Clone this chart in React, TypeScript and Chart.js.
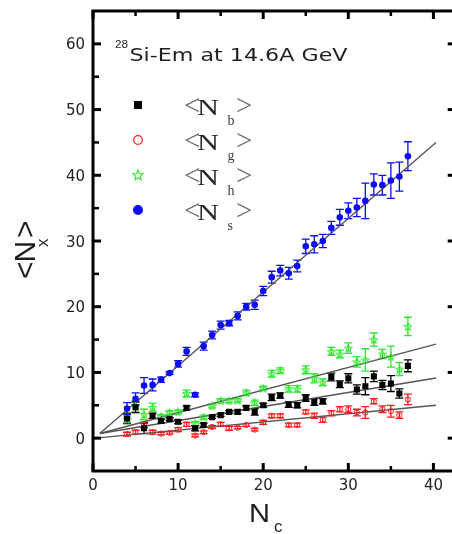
import React, { useEffect, useRef } from "react";
import { Chart, registerables } from "chart.js";

Chart.register(...registerables);

// ---------- data ----------
const nc = [4, 5, 6, 7, 8, 9, 10, 11, 12, 13, 14, 15, 16, 17, 18, 19, 20, 21, 22, 23, 24, 25, 26, 27, 28, 29, 30, 31, 32, 33, 34, 35, 36, 37];

const nbMean = [3.0, 4.7, 1.5, 3.4, 2.6, 2.9, 2.5, 4.6, 1.5, 2.0, 3.2, 3.5, 4.0, 4.0, 4.6, 4.0, 5.0, 6.2, 6.5, 5.1, 5.0, 6.1, 5.5, 5.6, 9.3, 8.2, 9.1, 7.4, 7.9, 9.4, 8.1, 8.3, 6.8, 11.0];
const nbErr = [0.8, 0.8, 0.8, 0.4, 0.3, 0.2, 0.3, 0.3, 0.4, 0.3, 0.2, 0.2, 0.2, 0.3, 0.3, 0.5, 0.3, 0.5, 0.4, 0.4, 0.4, 0.5, 0.5, 0.4, 0.6, 0.5, 0.7, 0.7, 1.3, 0.8, 0.7, 1.2, 0.7, 0.9];

const ngMean = [0.6, 0.9, 2.0, 0.9, 0.7, 0.8, 1.3, 2.1, 0.4, 0.9, 1.7, 2.1, 1.5, 1.6, 2.0, 1.3, 2.4, 3.4, 3.4, 2.0, 2.0, 4.0, 3.4, 2.8, 3.8, 4.4, 4.4, 3.9, 3.9, 5.6, 4.4, 4.1, 3.5, 5.9];
const ngErr = [0.3, 0.3, 0.4, 0.3, 0.2, 0.2, 0.3, 0.3, 0.2, 0.2, 0.2, 0.3, 0.3, 0.2, 0.2, 0.2, 0.3, 0.3, 0.3, 0.3, 0.3, 0.3, 0.4, 0.4, 0.4, 0.4, 0.5, 0.5, 0.9, 0.4, 0.5, 0.9, 0.5, 0.8];

const nhMean = [2.8, 4.8, 3.6, 4.7, 3.3, 3.9, 4.0, 6.8, 2.2, 3.2, 4.9, 5.7, 5.7, 5.8, 6.9, 5.4, 7.6, 9.8, 10.3, 7.5, 7.5, 10.4, 9.1, 8.5, 13.2, 12.8, 13.7, 11.6, 11.9, 15.0, 12.8, 12.4, 10.5, 17.0];
const nhErr = [0.4, 0.9, 0.8, 0.6, 0.3, 0.3, 0.3, 0.5, 0.3, 0.3, 0.3, 0.3, 0.3, 0.3, 0.4, 0.4, 0.3, 0.5, 0.4, 0.5, 0.5, 0.6, 0.7, 0.5, 0.6, 0.6, 0.8, 0.8, 1.7, 1.0, 0.7, 1.6, 1.0, 1.4];

const nsMean = [4.5, 6.0, 8.0, 8.1, 8.9, 9.9, 11.3, 13.2, 6.6, 14.0, 15.7, 17.2, 17.5, 18.6, 20.0, 20.3, 22.4, 24.5, 25.5, 25.1, 26.2, 29.2, 29.5, 30.0, 32.0, 33.6, 34.6, 35.1, 36.1, 38.6, 38.5, 39.2, 39.8, 42.9];
const nsErr = [0.9, 0.9, 1.2, 0.9, 0.4, 0.2, 0.5, 0.6, 0.3, 0.6, 0.6, 0.6, 0.4, 0.6, 0.5, 0.7, 0.7, 0.9, 0.8, 0.9, 0.9, 1.1, 1.3, 1.0, 1.0, 1.2, 1.2, 1.4, 2.7, 1.6, 1.5, 2.7, 2.2, 2.2];

// fit lines (end points)
const fitX = [0.8, 40.3];
const nsFit = [0.7, 45.0];
const nhFit = [0.7, 14.3];
const nbFit = [0.7, 9.15];
const ngFitX = [0.3, 40.3];
const ngFit = [0.0, 5.0];

const xMajor = [0, 10, 20, 30, 40];
const xMinor = [5, 15, 25, 35];
const yMajor = [0, 10, 20, 30, 40, 50, 60];
const yMinor = [5, 15, 25, 35, 45, 55];

const titleSup = "28";
const titleText = "Si-Em at 14.6A GeV";
const legendSubs = ["b", "g", "h", "s"];
const xTitle = "N";
const xTitleSub = "c";
const yTitle = "N";
const yTitleSub = "x";

// ---------- styling ----------
const BLUE = "#0c0cf5";
const RED = "#ff1a1a";
const GREEN = "#2fe82f";
const BLACK = "#000000";
const TEXT = "#1e1e24";

function starCanvas(size: number, color: string, lw: number) {
  const c = document.createElement("canvas");
  c.width = size;
  c.height = size;
  const g = c.getContext("2d")!;
  const cx = size / 2, cy = size / 2 + 0.4;
  const R = size / 2 - lw * 0.6, r = R * 0.45;
  g.beginPath();
  for (let k = 0; k < 10; k++) {
    const a = -Math.PI / 2 + (k * Math.PI) / 5;
    const rad = k % 2 === 0 ? R : r;
    const px = cx + rad * Math.cos(a), py = cy + rad * Math.sin(a);
    if (k === 0) g.moveTo(px, py);
    else g.lineTo(px, py);
  }
  g.closePath();
  g.strokeStyle = color;
  g.lineWidth = lw;
  g.stroke();
  return c;
}

function drawText(ctx: CanvasRenderingContext2D, s: string, x: number, y: number, font: string, color: string, align: CanvasTextAlign = "left", targetW?: number) {
  ctx.save();
  ctx.font = font;
  ctx.fillStyle = color;
  ctx.textAlign = align;
  ctx.textBaseline = "alphabetic";
  ctx.translate(x, y);
  if (targetW) {
    const w = ctx.measureText(s).width;
    ctx.scale(targetW / w, 1);
  }
  ctx.fillText(s, 0, 0);
  ctx.restore();
}

const errorBars = {
  id: "errorBars",
  beforeDatasetsDraw(chart: any) {
    const { ctx } = chart;
    const xs = chart.scales.x, ys = chart.scales.y;
    chart.data.datasets.forEach((ds: any) => {
      if (!ds.errors) return;
      ctx.save();
      ctx.strokeStyle = ds.errColor;
      ctx.lineWidth = 1.3;
      ds.data.forEach((p: any, i: number) => {
        const e = ds.errors[i];
        const px = xs.getPixelForValue(p.x);
        const y1 = ys.getPixelForValue(p.y - e);
        const y2 = ys.getPixelForValue(p.y + e);
        ctx.beginPath();
        ctx.moveTo(px, y1);
        ctx.lineTo(px, y2);
        ctx.moveTo(px - 4, y1);
        ctx.lineTo(px + 4, y1);
        ctx.moveTo(px - 4, y2);
        ctx.lineTo(px + 4, y2);
        ctx.stroke();
      });
      ctx.restore();
    });
  },
};

const frame = {
  id: "frame",
  afterDraw(chart: any) {
    const { ctx, chartArea: a } = chart;
    const xs = chart.scales.x, ys = chart.scales.y;
    ctx.save();
    // frame: left, top, bottom (right side lies beyond the visible edge)
    ctx.strokeStyle = "#000";
    ctx.lineWidth = 3;
    ctx.beginPath();
    ctx.moveTo(chart.width, a.top);
    ctx.lineTo(a.left, a.top);
    ctx.lineTo(a.left, a.bottom);
    ctx.lineTo(chart.width, a.bottom);
    ctx.stroke();
    // ticks
    const tick = (x1: number, y1: number, x2: number, y2: number, w: number) => {
      ctx.lineWidth = w;
      ctx.beginPath();
      ctx.moveTo(x1, y1);
      ctx.lineTo(x2, y2);
      ctx.stroke();
    };
    xMajor.forEach((v) => {
      const px = xs.getPixelForValue(v);
      tick(px, a.bottom, px, a.bottom - 8, 3);
      tick(px, a.top, px, a.top + 8, 3);
    });
    xMinor.forEach((v) => {
      const px = xs.getPixelForValue(v);
      tick(px, a.bottom, px, a.bottom - 5, 2.5);
      tick(px, a.top, px, a.top + 5, 2.5);
    });
    yMajor.forEach((v) => {
      const py = ys.getPixelForValue(v);
      tick(a.left, py, a.left + 8, py, 3);
      tick(a.right, py, a.right - 7, py, 3);
    });
    yMinor.forEach((v) => {
      const py = ys.getPixelForValue(v);
      tick(a.left, py, a.left + 6, py, 2.5);
    });
    // tick labels
    const tf = "15px 'DejaVu Sans'";
    xMajor.forEach((v) => {
      drawText(ctx, String(v), xs.getPixelForValue(v), 490, tf, TEXT, "center");
    });
    yMajor.forEach((v) => {
      drawText(ctx, String(v), 85, ys.getPixelForValue(v) + 5.5, tf, TEXT, "right");
    });
    // x title
    drawText(ctx, xTitle, 249, 521.5, "25px 'Liberation Sans'", TEXT, "left", 21);
    drawText(ctx, xTitleSub, 274, 532, "17px 'Liberation Sans'", TEXT, "left");
    // y title (rotated)
    ctx.save();
    ctx.translate(34.5, 279);
    ctx.rotate(-Math.PI / 2);
    drawText(ctx, "<", 0, 0, "30px 'Liberation Sans'", TEXT, "left");
    drawText(ctx, yTitle, 16.5, 0, "30px 'Liberation Sans'", TEXT, "left");
    drawText(ctx, yTitleSub, 32, 13.5, "17px 'Liberation Sans'", TEXT, "left");
    drawText(ctx, ">", 41, 0, "30px 'Liberation Sans'", TEXT, "left");
    ctx.restore();
    // annotation
    drawText(ctx, titleSup, 115, 47.5, "11px 'Liberation Sans'", TEXT, "left", 13);
    drawText(ctx, titleText, 129.5, 60.5, "18px 'DejaVu Sans'", TEXT, "left", 218);
    // legend
    const lx = 138;
    const rows = [105, 140, 175, 210];
    ctx.fillStyle = BLACK;
    ctx.fillRect(lx - 4, rows[0] - 4, 8, 8);
    ctx.strokeStyle = RED;
    ctx.lineWidth = 1.2;
    ctx.beginPath();
    ctx.arc(lx, rows[1], 4.3, 0, Math.PI * 2);
    ctx.stroke();
    const st = starCanvas(12, GREEN, 1.2);
    ctx.drawImage(st, lx - 6, rows[2] - 6);
    ctx.fillStyle = BLUE;
    ctx.beginPath();
    ctx.arc(lx, rows[3], 5, 0, Math.PI * 2);
    ctx.fill();
    legendSubs.forEach((s, i) => {
      const b = rows[i] + 10;
      const fb = "29px 'Liberation Serif'";
      const f = "23px 'Liberation Serif'";
      drawText(ctx, "<", 184, b, fb, "#707070", "left");
      drawText(ctx, "N", 197, b, f, "#2a2a2a", "left", 22);
      drawText(ctx, s, 227.5, b + 10, "14px 'Liberation Serif'", "#3a3a3a", "left");
      drawText(ctx, ">", 236, b, fb, "#707070", "left");
    });
    ctx.restore();
  },
};

function pts(means: number[]) {
  return nc.map((x, i) => ({ x, y: means[i] }));
}

export default function App() {
  const ref = useRef<HTMLCanvasElement | null>(null);
  useEffect(() => {
    const canvas = ref.current;
    if (!canvas) return;
    const star = starCanvas(9, GREEN, 1.1);
    const fitLine = (xsArr: number[], ysArr: number[]) => ({
      data: xsArr.map((x, i) => ({ x, y: ysArr[i] })),
      showLine: true,
      borderColor: "#555555",
      borderWidth: 1.4,
      pointRadius: 0,
      order: 10,
    });
    const chart = new Chart(canvas, {
      type: "scatter",
      data: {
        datasets: [
          fitLine(fitX, nsFit),
          fitLine(fitX, nhFit),
          fitLine(fitX, nbFit),
          fitLine(ngFitX, ngFit),
          {
            label: "Ng",
            data: pts(ngMean),
            errors: ngErr,
            errColor: RED,
            pointStyle: "circle",
            pointRadius: 2.6,
            backgroundColor: "rgba(255,255,255,0)",
            borderColor: RED,
            borderWidth: 1,
            order: 3,
          },
          {
            label: "Nh",
            data: pts(nhMean),
            errors: nhErr,
            errColor: GREEN,
            pointStyle: star,
            pointRadius: 4,
            order: 2,
          },
          {
            label: "Nb",
            data: pts(nbMean),
            errors: nbErr,
            errColor: BLACK,
            pointStyle: "rect",
            pointRadius: 4.3,
            backgroundColor: BLACK,
            borderColor: BLACK,
            borderWidth: 0,
            order: 1,
          },
          {
            label: "Ns",
            data: pts(nsMean),
            errors: nsErr,
            errColor: BLUE,
            pointStyle: "circle",
            pointRadius: 3.3,
            backgroundColor: BLUE,
            borderColor: BLUE,
            borderWidth: 0,
            order: 0,
          },
        ] as any,
      },
      options: {
        animation: false,
        responsive: false,
        devicePixelRatio: 1,
        layout: { padding: { left: 0, top: 11, right: 5.3, bottom: 0 } },
        plugins: { legend: { display: false }, tooltip: { enabled: false } },
        scales: {
          x: {
            type: "linear",
            min: 0,
            max: 42.5,
            ticks: { display: false },
            grid: { display: false },
            border: { display: false },
            afterFit: (s: any) => {
              s.height = 63;
            },
          },
          y: {
            type: "linear",
            min: -5,
            max: 65,
            ticks: { display: false },
            grid: { display: false },
            border: { display: false },
            afterFit: (s: any) => {
              s.width = 93;
            },
          },
        },
      } as any,
      plugins: [errorBars, frame],
    });
    return () => chart.destroy();
  }, []);
  return (
    <div style={{ position: "absolute", left: 0, top: 0, width: 452, height: 534, overflow: "hidden", background: "#fff" }}>
      <canvas ref={ref} width={460} height={534} style={{ display: "block" }} />
    </div>
  );
}
